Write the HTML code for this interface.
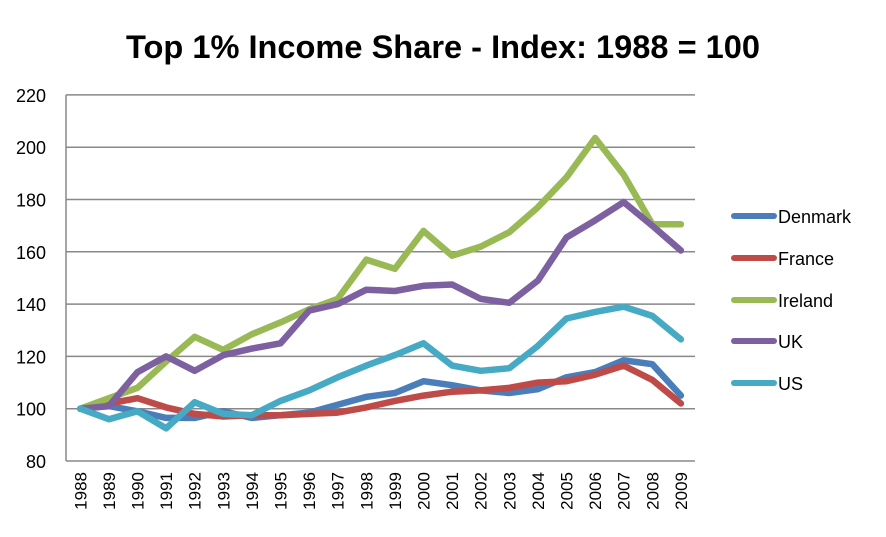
<!DOCTYPE html>
<html><head><meta charset="utf-8"><style>
html,body{margin:0;padding:0;background:#fff;}
svg text{font-family:"Liberation Sans",sans-serif;}
</style></head><body>
<svg id="c" width="886" height="532" xmlns="http://www.w3.org/2000/svg">
<text x="443" y="58" text-anchor="middle" font-size="32" font-weight="bold" fill="#000" textLength="634" lengthAdjust="spacingAndGlyphs">Top 1% Income Share - Index: 1988 = 100</text>
<g id="grid"></g><g id="lines"></g><g id="leg"></g>
</svg>
<script>
var s=document.getElementById('c'),ns="http://www.w3.org/2000/svg";
function el(p,t,a,txt){var e=document.createElementNS(ns,t);for(var k in a)e.setAttribute(k,a[k]);if(txt)e.textContent=txt;p.appendChild(e);return e;}
var g=document.getElementById('grid'),L=66,R=695;
function Y(v){return 461-(v-80)*52.3/20;}
function X(i){return L+28.6*(i+0.5);}
for(var v=80;v<=220;v+=20){var y=Y(v);el(g,'line',{x1:L,x2:R,y1:y,y2:y,stroke:'#888','stroke-width':1.5});
el(g,'text',{x:46,y:y+7,'text-anchor':'end','font-size':18,fill:'#000'},''+v);}
el(g,'line',{x1:L,x2:L,y1:Y(220),y2:Y(80),stroke:'#888','stroke-width':1.5});
for(var i=0;i<22;i++){var x=X(i);
el(g,'text',{x:0,y:0,'font-size':17,fill:'#000','text-anchor':'end',transform:'translate('+(x+6)+',472) rotate(-90)'},''+(1988+i));}
var D={
Denmark:['#4a7ebb',[100,101,99,96.5,96.5,99,96.5,97.5,98.5,101.5,104.5,106,110.5,109,107,106,107.5,112,114,118.5,117,105]],
France:['#be4b48',[100,102,104,100.5,98,97,97.5,97.5,98,98.5,100.5,103,105,106.5,107,108,110,110.5,113,116.5,111,102]],
Ireland:['#98b954',[100,104,108,118,127.5,122.5,128.5,133,138,142,157,153.5,168,158.5,162,167.5,177,188.5,203.5,189.5,170.5,170.5]],
UK:['#7d60a0',[100,101,114,120,114.5,120.5,123,125,137.5,140,145.5,145,147,147.5,142,140.5,149,165.5,172,179,170,160.5]],
US:['#46aac5',[100,96,99,92.5,102.5,98,97.5,103,107,112,116.5,120.5,125,116.5,114.5,115.5,124,134.5,137,139,135.5,126.5]]};
var ly=[216,258,300,341,383],k=0,ln=document.getElementById('lines'),lg=document.getElementById('leg');
for(var n in D){var c=D[n][0],d=D[n][1],p=d.map(function(v,i){return X(i).toFixed(1)+','+Y(v).toFixed(1)}).join(' ');
el(ln,'polyline',{points:p,fill:'none',stroke:c,'stroke-width':6.5,'stroke-linejoin':'round','stroke-linecap':'round'});
el(lg,'line',{x1:734,x2:774,y1:ly[k],y2:ly[k],stroke:c,'stroke-width':6,'stroke-linecap':'round'});
el(lg,'text',{x:778,y:ly[k]+7,'font-size':18,fill:'#000'},n);k++;}
</script>
</body></html>
